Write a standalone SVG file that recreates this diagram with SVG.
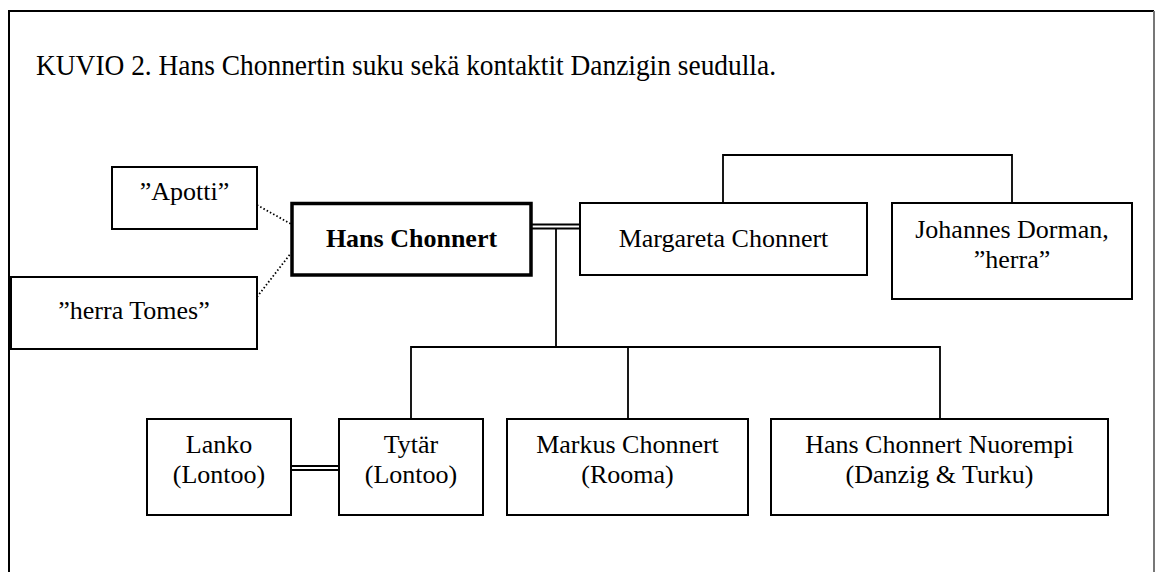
<svg xmlns="http://www.w3.org/2000/svg" width="1156" height="572" viewBox="0 0 1156 572">
<style>
.box{fill:#fff;stroke:#000;stroke-width:2}
.main{fill:#fff;stroke:#000;stroke-width:3.5}
.t{font-family:"Liberation Serif","Times New Roman",serif;font-size:26px;fill:#000;text-anchor:middle}
.b{font-weight:bold}
.ln{fill:none;stroke:#000;stroke-width:1.8}
.dot{fill:none;stroke:#000;stroke-width:1.8;stroke-dasharray:1.5 2.2}
</style>
<rect width="1156" height="572" fill="#fff"/>
<g id="frame">
<path d="M9,572 V11 H1154" fill="none" stroke="#000" stroke-width="2"/>
<path d="M1154,11 V572" fill="none" stroke="#777" stroke-width="2"/>
<text x="36" y="75" textLength="740" lengthAdjust="spacingAndGlyphs" style="font-family:'Liberation Serif','Times New Roman',serif;font-size:29px;fill:#000">KUVIO 2. Hans Chonnertin suku sekä kontaktit Danzigin seudulla.</text>
</g>
<g id="connectors">
<path class="dot" d="M257,205 L291,224"/>
<path class="dot" d="M257,297 L291,253"/>
<path class="ln" d="M531,224.5 H580 M531,228.5 H580"/>
<path class="ln" d="M556,228.5 V347 M411,419 V347 H940 V419 M628,347 V419"/>
<path class="ln" d="M723,203 V155 H1012 V203"/>
<path class="ln" d="M291,466 H339 M291,470 H339"/>
</g>
<g id="apotti"><rect class="box" x="112" y="167" width="145" height="62"/><text class="t" x="184.5" y="200">”Apotti”</text></g>
<g id="herra-tomes"><rect class="box" x="11" y="277" width="246" height="72"/><text class="t" x="134" y="319">”herra Tomes”</text></g>
<g id="hans"><rect class="main" x="292" y="203.5" width="239" height="71.5"/><text class="t b" x="411.5" y="247">Hans Chonnert</text></g>
<g id="margareta"><rect class="box" x="580" y="203" width="287" height="72"/><text class="t" x="723.5" y="247">Margareta Chonnert</text></g>
<g id="johannes"><rect class="box" x="892" y="203" width="240" height="96"/><text class="t" x="1012" y="238">Johannes Dorman,</text><text class="t" x="1012" y="268">”herra”</text></g>
<g id="lanko"><rect class="box" x="147" y="419" width="144" height="96"/><text class="t" x="219" y="453">Lanko</text><text class="t" x="219" y="483">(Lontoo)</text></g>
<g id="tytar"><rect class="box" x="339" y="419" width="144" height="96"/><text class="t" x="411" y="453">Tytär</text><text class="t" x="411" y="483">(Lontoo)</text></g>
<g id="markus"><rect class="box" x="507" y="419" width="241" height="96"/><text class="t" x="627.5" y="453">Markus Chonnert</text><text class="t" x="627.5" y="483">(Rooma)</text></g>
<g id="nuorempi"><rect class="box" x="771" y="419" width="337" height="96"/><text class="t" x="939.5" y="453">Hans Chonnert Nuorempi</text><text class="t" x="939.5" y="483">(Danzig &amp; Turku)</text></g>
</svg>
